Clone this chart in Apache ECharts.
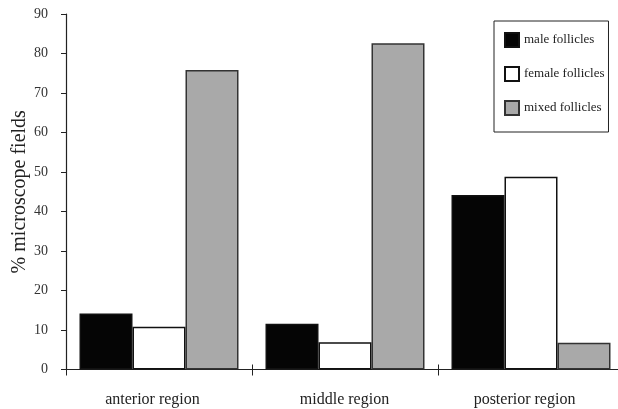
<!DOCTYPE html>
<html><head><meta charset="utf-8">
<script src="https://cdn.jsdelivr.net/npm/echarts@6/dist/echarts.min.js"></script>
<style>html,body{margin:0;padding:0;background:#fff}#c{width:618px;height:409px}</style>
</head><body><div id="c"></div>
<script>
const categories = ['anterior region', 'middle region', 'posterior region'];
const maleFollicles = [14.2, 11.6, 44.2];
const femaleFollicles = [10.8, 6.9, 48.8];
const mixedFollicles = [75.8, 82.6, 6.8];
const seriesNames = ['male follicles', 'female follicles', 'mixed follicles'];
const yTicks = { min: 0, max: 90, interval: 10 };
const yAxisName = '% microscope fields';

const FONT = 'Liberation Serif';
const chart = echarts.init(document.getElementById('c'), null, { renderer: 'canvas' });
const barStyle = (color, border) => ({ color: color, borderColor: border, borderWidth: 1.5 });
const labelFont = { fontFamily: FONT, fontSize: 16, color: '#222' };
chart.setOption({
  animation: false,
  backgroundColor: '#fff',
  textStyle: { fontFamily: FONT },
  grid: { left: 66, width: 558, top: 14, bottom: 39.5, containLabel: false, outerBoundsMode: 'none' },
  legend: {
    orient: 'vertical', left: 494, top: 21,
    padding: [11, 4, 16, 10], itemGap: 18, itemWidth: 14, itemHeight: 14,
    borderColor: '#222', borderWidth: 1, backgroundColor: '#fff',
    icon: 'rect',
    textStyle: { fontFamily: FONT, fontSize: 13, color: '#222', lineHeight: 10, padding: [4, 0, 0, 0] },
    data: seriesNames
  },
  xAxis: [{
    type: 'category', data: categories,
    axisLine: { lineStyle: { color: '#222', width: 1.2 } },
    axisTick: { show: true, length: 6, inside: false, lineStyle: { color: '#222' } },
    axisLabel: {
      fontFamily: FONT, fontSize: 16, color: '#222', margin: 22,
      formatter: (v, i) => (i === 1 ? '{c|' + v + '}' : '{s|' + v + '}'),
      rich: {
        s: Object.assign({ padding: [0, 13, 0, 0] }, labelFont),
        c: Object.assign({ padding: [0, 1, 0, 0] }, labelFont)
      }
    }
  }, {
    type: 'category', data: categories, position: 'bottom',
    axisLine: { show: false },
    axisTick: { show: true, length: 5, inside: true, lineStyle: { color: '#222' } },
    axisLabel: { show: false }
  }],
  yAxis: {
    type: 'value', min: yTicks.min, max: yTicks.max, interval: yTicks.interval,
    name: yAxisName, nameLocation: 'middle', nameGap: 36, nameRotate: 90, nameMoveOverlap: false,
    nameTextStyle: { fontFamily: FONT, fontSize: 20, color: '#222' },
    axisLine: { show: true, lineStyle: { color: '#222', width: 1.2 } },
    axisTick: { show: true, length: 5, lineStyle: { color: '#222' } },
    axisLabel: { fontFamily: FONT, fontSize: 14, color: '#333', margin: 18 },
    splitLine: { show: false }
  },
  series: [
    { name: seriesNames[0], type: 'bar', data: maleFollicles, barWidth: 53, barGap: '0%', itemStyle: barStyle('#050505', '#111') },
    { name: seriesNames[1], type: 'bar', data: femaleFollicles, barWidth: 53, barGap: '0%', itemStyle: barStyle('#ffffff', '#111') },
    { name: seriesNames[2], type: 'bar', data: mixedFollicles, barWidth: 53, barGap: '0%', itemStyle: barStyle('#a9a9a9', '#333') }
  ]
});
</script></body></html>
